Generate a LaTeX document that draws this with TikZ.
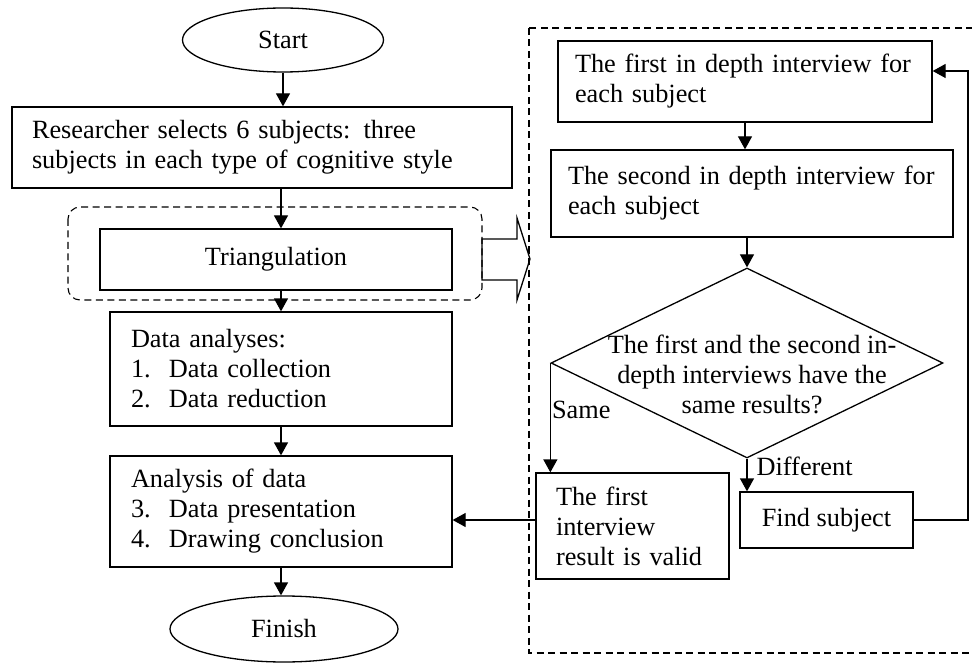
\documentclass[tikz,border=0pt]{standalone}
\usepackage{fontspec}
\setmainfont{Liberation Serif}
\usetikzlibrary{arrows.meta, positioning, shapes.geometric}
\tikzset{
    flowchart/.style={x=1pt, y=-1pt, >={Triangle[width=14pt,length=13pt]}, line width=1.3pt,
        font=\fontsize{26.3}{30}\selectfont},
    terminal/.style={draw, ellipse, inner sep=0pt},
    block/.style={draw, rectangle, inner xsep=17pt, inner ysep=0pt, align=left},
    cblock/.style={draw, rectangle, inner sep=0pt, align=center},
    decision/.style={draw, diamond, inner sep=0pt},
    % dashed frames round a group of steps
    groupbox/.style={dash pattern=on 7pt off 4.5pt, line width=1.1pt},
    tag/.style={anchor=west, inner sep=1pt},
}
\newcommand{\numitem}[2]{\makebox[38pt][l]{#1}#2}

\begin{document}
\begin{tikzpicture}[flowchart]
    \useasboundingbox (0,0) rectangle (972,663);

    % left column
    \node[terminal, minimum width=201pt, minimum height=64pt] (start) at (283,40) {Start};
    \node[block, inner xsep=20pt, text width=460pt, minimum height=81pt] (select) at (262,147.5)
        {Researcher selects 6 subjects: three\\subjects in each type of cognitive style};
    \node[cblock, minimum width=352pt, minimum height=61pt] (tri) at (276,259.5) {Triangulation};
    \node[block, inner xsep=21pt, text width=300pt, minimum height=114pt] (collect) at (281,369)
        {Data analyses:\\\numitem{1.}{Data collection}\\\numitem{2.}{Data reduction}};
    \node[block, inner xsep=21pt, text width=300pt, minimum height=111pt] (present) at (281,511.5)
        {Analysis of data\\\numitem{3.}{Data presentation}\\\numitem{4.}{Drawing conclusion}};
    \node[terminal, minimum width=228pt, minimum height=66pt] (finish) at (284,629) {Finish};

    \draw[groupbox, rounded corners=12pt] (68,207) rectangle (482,300);
    \draw[line join=miter] (482,239) -- (517,239) -- (517,218) -- (530,259) -- (517,300) -- (517,280) -- (482,280) -- cycle;

    \draw[->] (start) -- (start |- select.north);
    \draw[->] (select.south -| collect.north) -- (collect.north |- tri.north);
    \draw[->] (tri.south -| collect.north) -- (collect.north);
    \draw[->] (collect) -- (present);
    \draw[->] (present.south) -- (present.south |- finish.north);

    % right panel
    \draw[groupbox] (529,28) rectangle (1000,653);
    \node[block, text width=340pt, minimum height=81pt] (first) at (745,81.5)
        {The first in depth interview for\\each subject};
    \node[block, text width=368pt, minimum height=87pt] (second) at (752,193.5)
        {The second in depth interview for\\each subject};
    \node[decision, minimum width=392pt, minimum height=190pt] (same) at (747,363) {};
    \node[align=center, inner sep=0pt] (question) at (752,374)
        {The first and the second in-\\depth interviews have the\\same results?};
    \node[block, inner xsep=20pt, text width=153pt, minimum height=106pt] (valid) at (632.5,526)
        {The first\\interview\\result is valid};
    \node[cblock, minimum width=173pt, minimum height=56pt] (find) at (826.5,520) {Find subject};

    \draw[->] (first.south) -- (first.south |- second.north);
    \draw[->] (same.north |- second.south) -- (same.north);
    \draw[->] (same.west) -- (same.west |- valid.north) node[tag, pos=0.43] {Same};
    \draw[->] (same.south) -- (same.south |- find.north) node[tag, pos=0.24, xshift=8pt] {Different};
    \coordinate (back) at (968,71);
    \draw[->] (find.east) -| (back) -- (back -| first.east);
    \draw[->] (valid.west |- find.east) -- (present.east |- find.east);
\end{tikzpicture}
\end{document}
